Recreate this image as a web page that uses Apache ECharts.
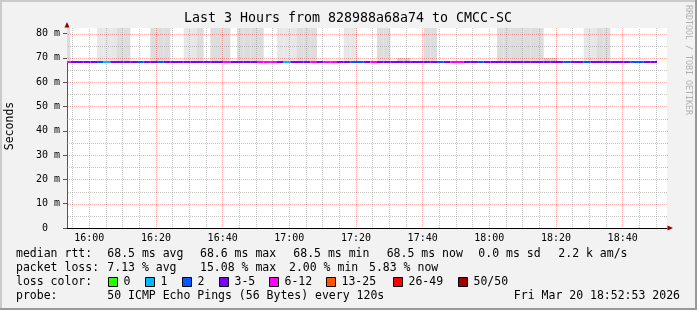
<!DOCTYPE html>
<html><head><meta charset="utf-8">
<script src="https://cdn.jsdelivr.net/npm/echarts@6/dist/echarts.min.js"></script>
<style>html,body{margin:0;padding:0;background:#f2f2f2}#c{width:697px;height:310px}</style>
</head><body><div id="c"></div>
<script>
// ---------- data ----------
const titleText = 'Last 3 Hours from 828988a68a74 to CMCC-SC';
const yAxisTitle = 'Seconds';
const xTickLabels = ['16:00','16:20','16:40','17:00','17:20','17:40','18:00','18:20','18:40'];
const yTickValues = [0,10,20,30,40,50,60,70,80];
const axisStart = '15:53:18';
const axisEnd = '18:53:18';
const firstSample = '15:52:18';
const stepMinutes = 2;

// median rtt (ms) per 120 s sample
const medianRtt = [
 68.5,68.5,68.5,68.5,68.5,68.5,68.5,68.5,68.5,68.5,
 68.5,68.5,68.5,68.5,68.5,68.5,68.5,68.5,68.5,68.5,
 68.5,68.5,68.5,68.5,68.5,68.5,68.5,68.5,68.5,68.5,
 68.5,68.5,68.5,68.5,68.5,68.5,68.5,68.5,68.5,68.5,
 68.5,68.5,68.5,68.5,68.5,68.5,68.5,68.5,68.5,68.5,
 68.5,68.5,68.5,68.5,68.5,68.5,68.5,68.5,68.5,68.5,
 68.5,68.5,68.5,68.5,68.5,68.5,68.5,68.5,68.5,68.5,
 68.5,68.5,68.5,68.5,68.5,68.5,68.5,68.5,68.5,68.5,
 68.5,68.5,68.5,68.5,68.5,68.5,68.5,68.5,68.5
];
// lost pings (of 50) per sample
const lossPings = [
 7, 4,4,4,4, 2, 1, 4,4,4,4, 2, 4,4, 2, 4,4,4,4,4,4,4,4,4, 7, 4,4,4,4, 7,7,7, 4, 1, 4,4,4, 7, 4, 7,7,
 4,4, 2,2, 4, 7, 4,4,4,4,4,4,4,4,4, 2, 4, 7,7, 4,4, 2, 4,4,4,4,4,4,4,4,4,4,4,4, 2, 4,4, 2, 4,4,4,4,4,4, 2,2, 4,4
];
// top of the smoke (ms); 90 = beyond the top of the graph, null = no smoke
const smokeTop = [
 90, null,null,null,null, 90,90,90,90,90, null,null,null, 90,90,90, null,null, 90,90,90, null, 90,90,90, null, 90,90,90,90,
 null,null, 90,90,90,90,90,90, null,null,null,null, 90,90, null,null,null, 90,90, null, 70,70, null,null, 90,90,
 null,null,null,null,null,null,null,null,null, 90,90,90,90,90,90,90, 70,70, null,null,null,null, 90,90,90,90,
 null,null,null,null,null,null,null
];
// smoke density shade (1 light, 2 dark, 3 thin band)
const smokeLevel = [
 2, 0,0,0,0, 1,1,1,2,2, 0,0,0, 2,2,2, 0,0, 1,1,2, 0, 2,2,2, 0, 2,2,2,2,
 0,0, 1,1,1,2,2,2, 0,0,0,0, 1,1, 0,0,0, 2,2, 0, 3,3, 0,0, 2,2,
 0,0,0,0,0,0,0,0,0, 2,2,2,2,2,2,2, 3,3, 0,0,0,0, 1,1,2,2,
 0,0,0,0,0,0,0
];
const lossLabels = ['0','1','2','3-5','6-12','13-25','26-49','50/50'];
const lossMax = [0,1,2,5,12,25,49,50];
const lossColors = ['#26ff00','#00b8ff','#0059ff','#7e00ff','#ff00ff','#ff5500','#ff0000','#a10000'];

const legendRtt = ['median rtt:','68.5 ms avg','68.6 ms max','68.5 ms min','68.5 ms now','0.0 ms sd','2.2 k am/s'];
const legendLoss = ['packet loss:','7.13 % avg','15.08 % max','2.00 % min','5.83 % now'];
const legendLossColor = 'loss color:';
const legendProbe = ['probe:','50 ICMP Echo Pings (56 Bytes) every 120s'];
const stampText = 'Fri Mar 20 18:52:53 2026';
const sideText = 'RRDTOOL / TOBI OETIKER';

// ---------- helpers ----------
const toMin = s => { const p = s.split(':').map(Number); return p[0]*60 + p[1] + (p[2]||0)/60; };
const fmtHM = v => { const t = Math.round(v); const h = Math.floor(t/60), m = t%60; return String(h).padStart(2,'0')+':'+String(m).padStart(2,'0'); };
const lossColor = n => { for (let i=0;i<lossMax.length;i++) if (n <= lossMax[i]) return lossColors[i]; return lossColors[lossColors.length-1]; };
const smokeColors = ['none','#e7e7e7','#dddddd','#d2d2d2'];

function dotPattern(color){
  const c = document.createElement('canvas'); c.width = 2; c.height = 2;
  const ctx = c.getContext('2d'); ctx.fillStyle = color;
  ctx.fillRect(0,0,1,1); ctx.fillRect(1,1,1,1);
  return {image:c, repeat:'repeat'};
}
const patMinor = dotPattern('rgba(140,140,140,0.5)');
const patMajor = dotPattern('rgba(255,0,0,0.33)');

const t0 = toMin(firstSample);
const xMin = toMin(axisStart), xMax = toMin(axisEnd);
const smokeData = [], lineData = [];
medianRtt.forEach((v,i)=>{
  const a = t0 + i*stepMinutes, b = a + stepMinutes;
  lineData.push([a,b,v,lossPings[i]]);
  if (smokeTop[i] != null) smokeData.push([a,b,v,smokeTop[i],smokeLevel[i]]);
});

const FONT = 'DejaVu Sans Mono';
const majorX = xTickLabels.map(toMin);
const gridData = []; // [x, y, kind] kind: 0 v-minor, 1 v-major, 2 h-minor, 3 h-major
for (let m = Math.ceil(xMin/5)*5; m < xMax; m += 5) {
  const isMajor = majorX.some(v=>Math.abs(v-m)<0.01);
  gridData.push([m, 0, isMajor ? 1 : 0]);
}
yTickValues.forEach(v=>{
  if (v > 0) gridData.push([xMin, v, 3]);
  if (v + 5 < 82) gridData.push([xMin, v+5, 2]);
});

function clipRect(r, cs){
  return echarts.graphic.clipRectByRect(r, {x:cs.x, y:cs.y, width:cs.width, height:cs.height});
}

// ---------- graphic texts ----------
const g = [];
g.push({type:'rect', shape:{x:0,y:0,width:697,height:2}, style:{fill:'#cbcbcb'}, z:100});
g.push({type:'rect', shape:{x:0,y:0,width:2,height:310}, style:{fill:'#cbcbcb'}, z:100});
g.push({type:'rect', shape:{x:0,y:308,width:697,height:2}, style:{fill:'#999999'}, z:101});
g.push({type:'rect', shape:{x:695,y:0,width:2,height:310}, style:{fill:'#999999'}, z:101});
g.push({type:'text', x:348, y:19, style:{text:titleText, font:'13.3px "'+FONT+'"', fill:'#000', align:'center', verticalAlign:'middle'}, z:50});
g.push({type:'text', x:10, y:126, rotation:Math.PI/2, style:{text:yAxisTitle, font:'11.5px "'+FONT+'"', fill:'#000', align:'center', verticalAlign:'middle'}, z:50});
g.push({type:'text', x:688.5, y:60, rotation:-Math.PI/2, style:{text:sideText, font:'8.3px "'+FONT+'"', fill:'#b0b0b0', align:'center', verticalAlign:'middle'}, z:50});
g.push({type:'polygon', shape:{points:[[64.5,27.5],[69.5,27.5],[67,22]]}, style:{fill:'#990000'}, z:60});
g.push({type:'polygon', shape:{points:[[667.5,225.5],[667.5,230.5],[673,228]]}, style:{fill:'#990000'}, z:60});

const LF = '11.5px "'+FONT+'"';
const rttX = [16,107.3,200,293.3,386.7,478.3,558.3];
legendRtt.forEach((s,i)=>g.push({type:'text', x:rttX[i], y:254, style:{text:s, font:LF, fill:'#000', verticalAlign:'middle'}, z:50}));
const lossX = [16,107.3,200,289,369];
legendLoss.forEach((s,i)=>g.push({type:'text', x:lossX[i], y:268, style:{text:s, font:LF, fill:'#000', verticalAlign:'middle'}, z:50}));
g.push({type:'text', x:16, y:282.5, style:{text:legendLossColor, font:LF, fill:'#000', verticalAlign:'middle'}, z:50});
const swX = [108.5,145.5,182.5,219.5,269.5,326.5,393.5,458.5];
lossLabels.forEach((s,i)=>{
  g.push({type:'rect', shape:{x:swX[i], y:277.5, width:9, height:9}, style:{fill:lossColors[i], stroke:'#000', lineWidth:1}, z:50});
  g.push({type:'text', x:swX[i]+15, y:282.5, style:{text:s, font:LF, fill:'#000', verticalAlign:'middle'}, z:50});
});
const probeX = [16,107.3];
legendProbe.forEach((s,i)=>g.push({type:'text', x:probeX[i], y:296, style:{text:s, font:LF, fill:'#000', verticalAlign:'middle'}, z:50}));
g.push({type:'text', x:680, y:296, style:{text:stampText, font:LF, fill:'#000', align:'right', verticalAlign:'middle'}, z:50});

// ---------- chart ----------
const chart = echarts.init(document.getElementById('c'), null, {renderer:'canvas', width:697, height:310});
chart.setOption({
  backgroundColor:'#f2f2f2',
  animation:false,
  grid:{left:67, top:28, width:600, height:200, show:true, backgroundColor:'#ffffff', borderWidth:0},
  xAxis:{
    type:'value', min:xMin, max:xMax,
    axisLine:{show:true, lineStyle:{color:'#000', width:1}},
    axisTick:{show:false},
    splitLine:{show:false},
    axisLabel:{customValues:majorX, formatter:v=>fmtHM(v), fontFamily:FONT, fontSize:10, color:'#000', margin:5}
  },
  yAxis:{
    type:'value', min:0, max:82.3, interval:10,
    axisLine:{show:true, lineStyle:{color:'#555', width:1}},
    axisTick:{show:true, length:4, lineStyle:{color:'#555'}},
    splitLine:{show:false},
    axisLabel:{formatter:v=> v===0 ? '0  ' : v+' m', fontFamily:FONT, fontSize:10, color:'#000', margin:7}
  },
  series:[
    {
      type:'custom', name:'smoke', z:1, silent:true,
      data:smokeData, encode:{x:[0,1], y:[2,3]},
      renderItem:(params, api)=>{
        const a = api.coord([api.value(0), api.value(3)]);
        const b = api.coord([api.value(1), api.value(2)]);
        const r = clipRect({x:a[0], y:a[1], width:b[0]-a[0], height:b[1]-a[1]}, params.coordSys);
        if (!r) return null;
        return {type:'rect', shape:r, style:{fill:smokeColors[api.value(4)]}};
      }
    },
    {
      type:'custom', name:'grid', z:2, silent:true,
      data:gridData, encode:{x:0, y:1},
      renderItem:(params, api)=>{
        const cs = params.coordSys;
        const kind = api.value(2);
        const p = api.coord([api.value(0), api.value(1)]);
        let shape;
        if (kind < 2) shape = {x:Math.floor(p[0]), y:cs.y, width:1, height:cs.height};
        else shape = {x:cs.x, y:Math.round(p[1]), width:cs.width + 1, height:1};
        return {type:'rect', shape, style:{fill:(kind % 2) ? patMajor : patMinor}, z2:(kind % 2) ? 2 : 1};
      }
    },
    {
      type:'custom', name:'median', z:3, silent:true,
      data:lineData, encode:{x:[0,1], y:2},
      renderItem:(params, api)=>{
        const a = api.coord([api.value(0), api.value(2)]);
        const b = api.coord([api.value(1), api.value(2)]);
        const y = Math.round(a[1]) - 1;
        const r = clipRect({x:a[0], y:y, width:b[0]-a[0], height:2}, params.coordSys);
        if (!r) return null;
        return {type:'rect', shape:r, style:{fill:lossColor(api.value(3))}};
      }
    }
  ],
  graphic:g
});
</script></body></html>
